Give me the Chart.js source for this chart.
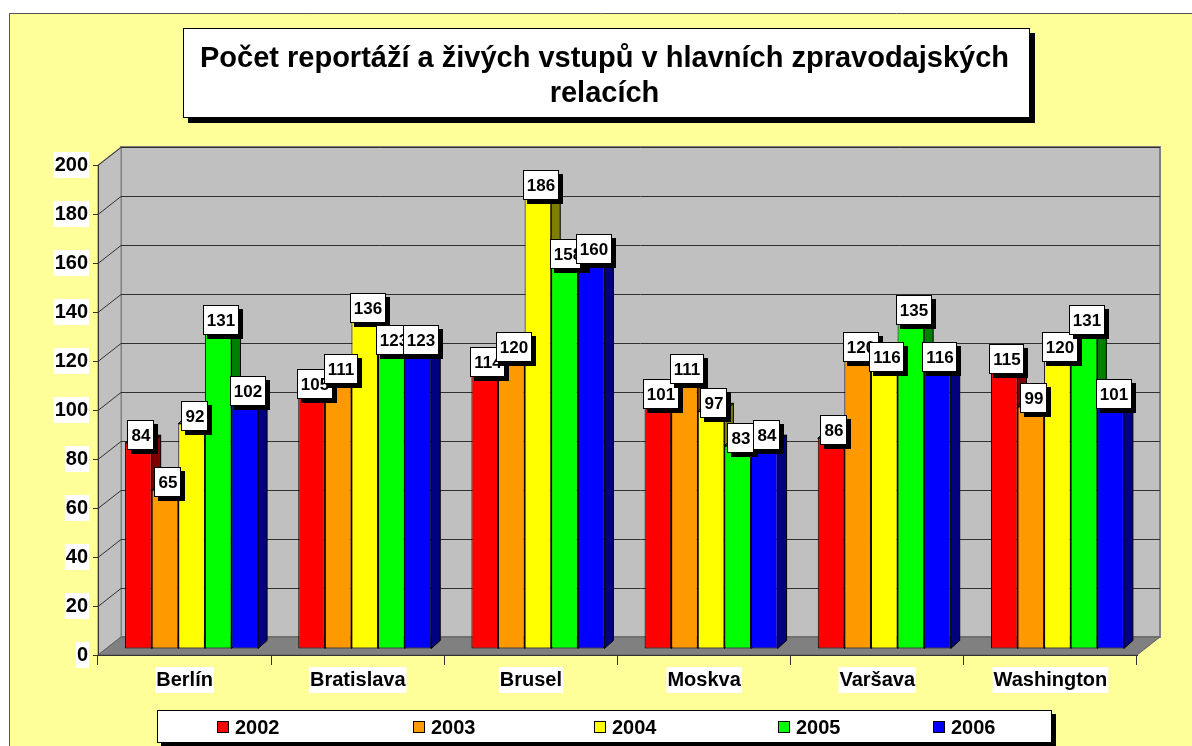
<!DOCTYPE html>
<html>
<head>
<meta charset="utf-8">
<script src="https://cdn.jsdelivr.net/npm/chart.js@4.4.0/dist/chart.umd.min.js"></script>
<style>
html,body{margin:0;padding:0;background:#fff;}
canvas{display:block;}
</style>
</head>
<body>
<canvas id="c" width="1192" height="746"></canvas>
<script>
// ---- data ----
const categories = ['Berlín', 'Bratislava', 'Brusel', 'Moskva', 'Varšava', 'Washington'];
const years = ['2002', '2003', '2004', '2005', '2006'];
const v2002 = [84, 105, 114, 101, 86, 115];
const v2003 = [65, 111, 120, 111, 120, 99];
const v2004 = [92, 136, 186, 97, 116, 120];
const v2005 = [131, 123, 158, 83, 135, 131];
const v2006 = [102, 123, 160, 84, 116, 101];
const yMin = 0, yMax = 200, yStep = 20;
const titleLines = ['Počet reportáží a živých vstupů v hlavních zpravodajských', 'relacích'];

// ---- styles ----
const frontColors = ['#FF0000', '#FF9900', '#FFFF00', '#00FF00', '#0000FF'];
const sideColors  = ['#800000', '#804C00', '#808000', '#008000', '#000080'];
const FONT = '"Liberation Sans", Arial, sans-serif';
const WALL_DX = 23, WALL_DY = 18;   // depth of walls
const BAR_SHIFT_X = 7, BAR_SHIFT_Y = 6; // bars sit a little behind the front plane
const BAR_DX = 9, BAR_DY = 8;       // bar depth

const seriesValues = [v2002, v2003, v2004, v2005, v2006];

const threeD = {
  id: 'threeD',
  beforeDraw(chart) {
    const ctx = chart.ctx;
    const a = chart.chartArea;
    const ys = chart.scales.y;
    ctx.save();
    ctx.fillStyle = '#FFFFFF';
    ctx.fillRect(0, 0, chart.width, chart.height);
    ctx.fillStyle = '#FFFF99';
    ctx.fillRect(9, 13, chart.width, chart.height);
    ctx.strokeStyle = '#555555';
    ctx.lineWidth = 1;
    ctx.beginPath();
    ctx.moveTo(9.5, chart.height); ctx.lineTo(9.5, 13.5); ctx.lineTo(chart.width, 13.5);
    ctx.stroke();

    const L = a.left, R = a.right, T = a.top, B = a.bottom;
    // back wall
    ctx.fillStyle = '#C0C0C0';
    ctx.fillRect(L + WALL_DX, T - WALL_DY, R - L, B - T);
    ctx.strokeStyle = '#808080';
    ctx.lineWidth = 2;
    ctx.strokeRect(L + WALL_DX, T - WALL_DY, R - L, B - T);
    // left wall
    ctx.beginPath();
    ctx.moveTo(L, T); ctx.lineTo(L + WALL_DX, T - WALL_DY);
    ctx.lineTo(L + WALL_DX, B - WALL_DY); ctx.lineTo(L, B); ctx.closePath();
    ctx.fillStyle = '#C0C0C0';
    ctx.fill();
    ctx.lineWidth = 1;
    ctx.strokeStyle = '#808080';
    ctx.stroke();
    // floor
    ctx.beginPath();
    ctx.moveTo(L, B); ctx.lineTo(L + WALL_DX, B - WALL_DY);
    ctx.lineTo(R + WALL_DX, B - WALL_DY); ctx.lineTo(R, B); ctx.closePath();
    ctx.fillStyle = '#808080';
    ctx.fill();
    ctx.strokeStyle = '#606060';
    ctx.stroke();
    // gridlines
    ctx.strokeStyle = '#303030';
    ctx.lineWidth = 1;
    for (let v = yMin + yStep; v <= yMax; v += yStep) {
      const y = Math.round(ys.getPixelForValue(v)) + 0.5;
      ctx.beginPath();
      ctx.moveTo(L, y);
      ctx.lineTo(L + WALL_DX, y - WALL_DY);
      ctx.lineTo(R + WALL_DX, y - WALL_DY);
      ctx.stroke();
    }
    ctx.restore();
  },
  beforeDatasetsDraw(chart) {
    const ctx = chart.ctx;
    ctx.save();
    ctx.translate(BAR_SHIFT_X, -BAR_SHIFT_Y);
    ctx.lineWidth = 1;
    ctx.strokeStyle = '#000000';
    for (let i = 0; i < chart.data.datasets.length; i++) {
      const meta = chart.getDatasetMeta(i);
      meta.data.forEach(el => {
        const p = el.getProps(['x', 'y', 'base', 'width'], true);
        const l = p.x - p.width / 2, r = p.x + p.width / 2, t = p.y, b = p.base;
        ctx.fillStyle = sideColors[i];
        ctx.beginPath();
        ctx.moveTo(r, t); ctx.lineTo(r + BAR_DX, t - BAR_DY);
        ctx.lineTo(r + BAR_DX, b - BAR_DY); ctx.lineTo(r, b); ctx.closePath();
        ctx.fill(); ctx.stroke();
        ctx.beginPath();
        ctx.moveTo(l, t); ctx.lineTo(l + BAR_DX, t - BAR_DY);
        ctx.lineTo(r + BAR_DX, t - BAR_DY); ctx.lineTo(r, t); ctx.closePath();
        ctx.fill(); ctx.stroke();
      });
    }
  },
  afterDatasetsDraw(chart) {
    const ctx = chart.ctx;
    ctx.restore();
    ctx.save();
    // value labels
    ctx.font = 'bold 17px ' + FONT;
    ctx.textAlign = 'center';
    ctx.textBaseline = 'middle';
    for (let i = 0; i < chart.data.datasets.length; i++) {
      const meta = chart.getDatasetMeta(i);
      const vals = chart.data.datasets[i].data;
      meta.data.forEach((el, j) => {
        const p = el.getProps(['x', 'y'], true);
        const txt = String(vals[j]);
        const tw = ctx.measureText(txt).width;
        const bw = Math.round(tw + 8), bh = 30;
        const cx = Math.round(p.x + BAR_SHIFT_X + 3);
        const cy = Math.round(p.y - BAR_SHIFT_Y - 8);
        const x0 = cx - Math.round(bw / 2), y0 = cy - bh / 2;
        ctx.fillStyle = '#000';
        ctx.fillRect(x0 + 4, y0 + 4, bw, bh);
        ctx.fillStyle = '#fff';
        ctx.fillRect(x0, y0, bw, bh);
        ctx.strokeStyle = '#000';
        ctx.lineWidth = 1;
        ctx.strokeRect(x0 + 0.5, y0 + 0.5, bw - 1, bh - 1);
        ctx.fillStyle = '#000';
        ctx.fillText(txt, cx, cy + 1);
      });
    }
    // title box
    const tb = {x: 183, y: 28, w: 847, h: 90};
    ctx.fillStyle = '#000';
    ctx.fillRect(tb.x + 5, tb.y + 5, tb.w, tb.h);
    ctx.fillStyle = '#fff';
    ctx.fillRect(tb.x, tb.y, tb.w, tb.h);
    ctx.strokeStyle = '#000';
    ctx.lineWidth = 1;
    ctx.strokeRect(tb.x + 0.5, tb.y + 0.5, tb.w - 1, tb.h - 1);
    ctx.fillStyle = '#000';
    ctx.font = 'bold 29px ' + FONT;
    ctx.fillText(titleLines[0], tb.x + tb.w / 2 - 2, 59);
    ctx.fillText(titleLines[1], tb.x + tb.w / 2 - 2, 94);
    // legend box
    const lb = {x: 157, y: 710, w: 895, h: 33};
    ctx.fillStyle = '#000';
    ctx.fillRect(lb.x + 4, lb.y + 4, lb.w, lb.h);
    ctx.fillStyle = '#fff';
    ctx.fillRect(lb.x, lb.y, lb.w, lb.h);
    ctx.strokeStyle = '#000';
    ctx.strokeRect(lb.x + 0.5, lb.y + 0.5, lb.w - 1, lb.h - 1);
    const legendX = [217, 413, 594, 778, 933];
    ctx.font = 'bold 20px ' + FONT;
    ctx.textAlign = 'left';
    chart.data.datasets.forEach((ds, i) => {
      const sx = legendX[i], sy = 721;
      ctx.fillStyle = ds.backgroundColor;
      ctx.fillRect(sx, sy, 12, 12);
      ctx.strokeStyle = '#000';
      ctx.strokeRect(sx + 0.5, sy + 0.5, 11, 11);
      ctx.fillStyle = '#000';
      ctx.fillText(ds.label, sx + 18, sy + 7);
    });
    ctx.restore();
  }
};

const datasets = years.map((yr, i) => ({
  label: yr,
  data: seriesValues[i],
  backgroundColor: frontColors[i],
  borderColor: '#000000',
  borderWidth: 1,
  borderSkipped: false,
  categoryPercentage: 0.768,
  barPercentage: 1.0
}));

new Chart(document.getElementById('c'), {
  type: 'bar',
  data: { labels: categories, datasets },
  plugins: [threeD],
  options: {
    responsive: false,
    devicePixelRatio: 1,
    animation: false,
    layout: { padding: { top: 165, right: 55, bottom: 0, left: 0 } },
    plugins: { legend: { display: false }, tooltip: { enabled: false }, title: { display: false } },
    scales: {
      x: {
        afterFit: s => { s.height = 91; },
        grid: { offset: true, drawOnChartArea: false, drawTicks: true, tickLength: 10, color: '#333333' },
        border: { display: true, color: '#333333' },
        ticks: {
          color: '#000', padding: 3,
          font: { family: FONT, size: 20, weight: 'bold' },
          showLabelBackdrop: true, backdropColor: '#FFFFFF', backdropPadding: 1
        }
      },
      y: {
        min: yMin, max: yMax,
        afterFit: s => { s.width = 98; },
        grid: { drawOnChartArea: false, drawTicks: true, tickLength: 5, color: '#333333' },
        border: { display: true, color: '#333333' },
        ticks: {
          stepSize: yStep, color: '#000', padding: 5,
          font: { family: FONT, size: 20, weight: 'bold' },
          showLabelBackdrop: true, backdropColor: '#FFFFFF', backdropPadding: 1
        }
      }
    }
  }
});
</script>
</body>
</html>
